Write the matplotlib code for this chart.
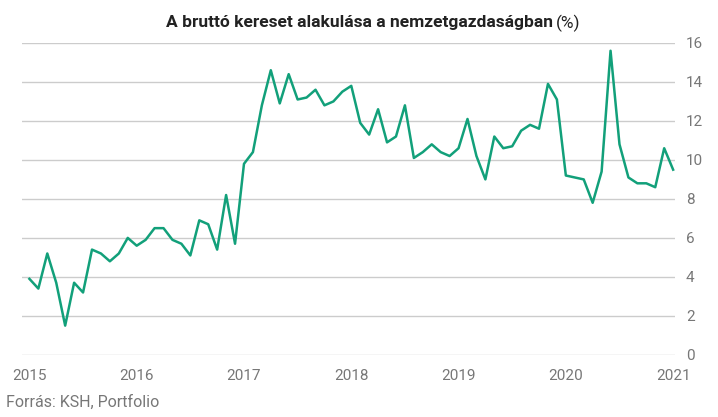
import matplotlib.pyplot as plt
import numpy as np

plt.rcParams["font.family"] = "Roboto"

years = ["2015", "2016", "2017", "2018", "2019", "2020", "2021"]
wage_growth = [
    3.9, 3.4, 5.2, 3.7, 1.5, 3.7, 3.2, 5.4, 5.2, 4.8, 5.2, 6.0,
    5.6, 5.9, 6.5, 6.5, 5.9, 5.7, 5.1, 6.9, 6.7, 5.4, 8.2, 5.7,
    9.8, 10.4, 12.8, 14.6, 12.9, 14.4, 13.1, 13.2, 13.6, 12.8, 13.0, 13.5,
    13.8, 11.9, 11.3, 12.6, 10.9, 11.2, 12.8, 10.1, 10.4, 10.8, 10.4, 10.2,
    10.6, 12.1, 10.2, 9.0, 11.2, 10.6, 10.7, 11.5, 11.8, 11.6, 13.9, 13.1,
    9.2, 9.1, 9.0, 7.8, 9.4, 15.6, 10.8, 9.1, 8.8, 8.8, 8.6, 10.6,
    9.5,
]
y_ticks = [0, 2, 4, 6, 8, 10, 12, 14, 16]

months = np.arange(len(wage_growth))

fig = plt.figure(figsize=(7.18, 4.17), dpi=100)
ax = fig.add_axes([0.031, 0.149, 0.909, 0.748])
ax.plot(months, wage_growth, color="#12a07a", lw=1.8)

ax.set_xlim(-0.8, 72.2)
ax.set_ylim(0, 16)
ax.set_yticks(y_ticks)
ax.set_xticks(np.arange(0, 73, 12))
ax.set_xticklabels(years)
ax.yaxis.tick_right()
ax.grid(axis="y", color="#cccccc", lw=1)
ax.set_axisbelow(True)
ax.tick_params(length=0, labelsize=11, colors="#777777")
ax.tick_params(axis="y", pad=8)
ax.tick_params(axis="x", pad=10)
for s in ax.spines.values():
    s.set_visible(False)

fig.text(0.770, 0.945, "A bruttó kereset alakulása a nemzetgazdaságban", ha="right",
         va="center", fontsize=12.5, fontweight="bold", color="#222222")
fig.text(0.774, 0.945, "(%)", ha="left", va="center", fontsize=12.5, color="#222222")
fig.text(0.008, 0.025, "Forrás: KSH, Portfolio", fontsize=11.5, color="#777777")

fig.savefig("out.png", dpi=100)
